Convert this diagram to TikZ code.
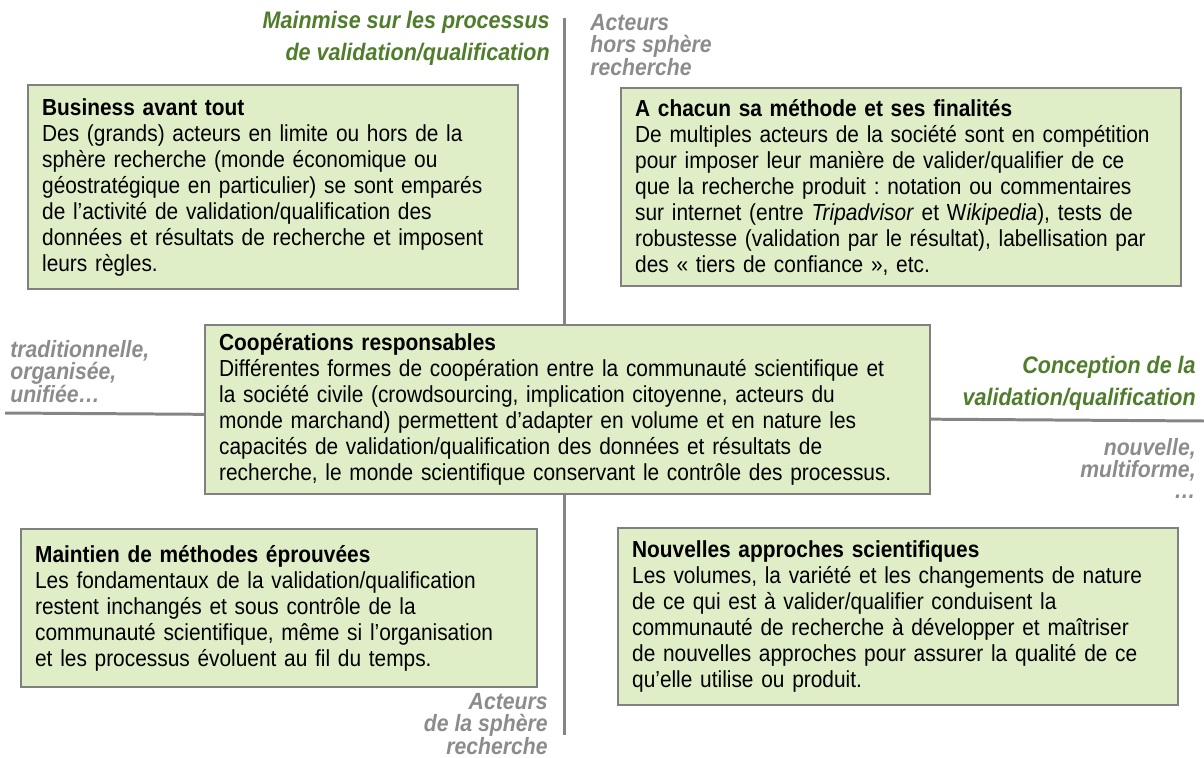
\documentclass[tikz,border=0pt]{standalone}
\usepackage{fontspec}
\setmainfont{Liberation Sans}[FakeStretch=0.9]
\frenchspacing
\definecolor{cardfill}{HTML}{E0EEC8}
\definecolor{cardline}{HTML}{808080}
\definecolor{axisgray}{HTML}{858585}
\definecolor{leafgreen}{HTML}{4F7D2C}
\definecolor{labelgray}{HTML}{8C8C8C}

\begin{document}
\begin{tikzpicture}[
    card/.style={draw=cardline, line width=1.3pt, fill=cardfill, anchor=north west,
                 align=left, inner xsep=0.28cm, inner ysep=0.12cm,
                 font=\fontsize{13.2}{14.8}\selectfont},
    axis/.style={line width=1.7pt, draw=axisgray},
    pole/.style={font=\bfseries\itshape\fontsize{13.6}{18.2}\selectfont, text=leafgreen, inner sep=0pt},
    hint/.style={font=\bfseries\itshape\fontsize{13.4}{12.3}\selectfont, text=labelgray, inner sep=0pt}
  ]
    \useasboundingbox (0,0) rectangle (24.08,-15.16);

    % the two axes go first, the cards are filled on top of them
    \coordinate (north) at (11.28,-0.36);
    \coordinate (south) at (11.28,-14.70);
    \coordinate (west)  at (0.10,-8.26);
    \coordinate (east)  at (24.08,-8.42);
    \draw[axis] (north) -- (south);
    \draw[axis] (west) -- (east);

    \node[card, text width=9.24cm, minimum height=4.08cm] (business) at (0.54,-1.68)
      {\textbf{Business avant tout}\\
       Des (grands) acteurs en limite ou hors de la\\
       sphère recherche (monde économique ou\\
       géostratégique en particulier) se sont emparés\\
       de l’activité de validation/qualification des\\
       données et résultats de recherche et imposent\\
       leurs règles.};
    \node[card, text width=10.64cm, minimum height=3.96cm] (chacun) at (12.40,-1.74)
      {\textbf{A chacun sa méthode et ses finalités}\\
       De multiples acteurs de la société sont en compétition\\
       pour imposer leur manière de valider/qualifier de ce\\
       que la recherche produit : notation ou commentaires\\
       sur internet (entre \textit{Tripadvisor} et W\textit{ikipedia}), tests de\\
       robustesse (validation par le résultat), labellisation par\\
       des « tiers de confiance », etc.};
    \node[card, text width=13.94cm, minimum height=3.38cm] (coop) at (4.08,-6.48)
      {\textbf{Coopérations responsables}\\
       Différentes formes de coopération entre la communauté scientifique et\\
       la société civile (crowdsourcing, implication citoyenne, acteurs du\\
       monde marchand) permettent d’adapter en volume et en nature les\\
       capacités de validation/qualification des données et résultats de\\
       recherche, le monde scientifique conservant le contrôle des processus.};
    \node[card, text width=9.76cm, minimum height=3.16cm] (maintien) at (0.40,-10.56)
      {\textbf{Maintien de méthodes éprouvées}\\
       Les fondamentaux de la validation/qualification\\
       restent inchangés et sous contrôle de la\\
       communauté scientifique, même si l’organisation\\
       et les processus évoluent au fil du temps.};
    \node[card, text width=10.64cm, minimum height=3.54cm] (nouvelles) at (12.34,-10.54)
      {\textbf{Nouvelles approches scientifiques}\\
       Les volumes, la variété et les changements de nature\\
       de ce qui est à valider/qualifier conduisent la\\
       communauté de recherche à développer et maîtriser\\
       de nouvelles approches pour assurer la qualité de ce\\
       qu’elle utilise ou produit.};

    % axis captions
    \node[pole, anchor=north east, align=right] (grip) at (11.00,-0.22)
      {Mainmise sur les processus\\de validation/qualification};
    \node[pole, anchor=north east, align=right] (design) at (23.92,-7.12)
      {Conception de la\\validation/qualification};
    \node[hint, anchor=north west, align=left] (outside) at (11.80,-0.28)
      {Acteurs\\hors sphère\\recherche};
    \node[hint, anchor=north east, align=right] (inside) at (10.96,-13.86)
      {Acteurs\\de la sphère\\recherche};
    \node[hint, anchor=north west, align=left] (classic) at (0.20,-6.80)
      {traditionnelle,\\organisée,\\unifiée…};
    \node[hint, anchor=north east, align=right] (novel) at (23.92,-8.76)
      {nouvelle,\\multiforme,\\…};
  \end{tikzpicture}
\end{document}
